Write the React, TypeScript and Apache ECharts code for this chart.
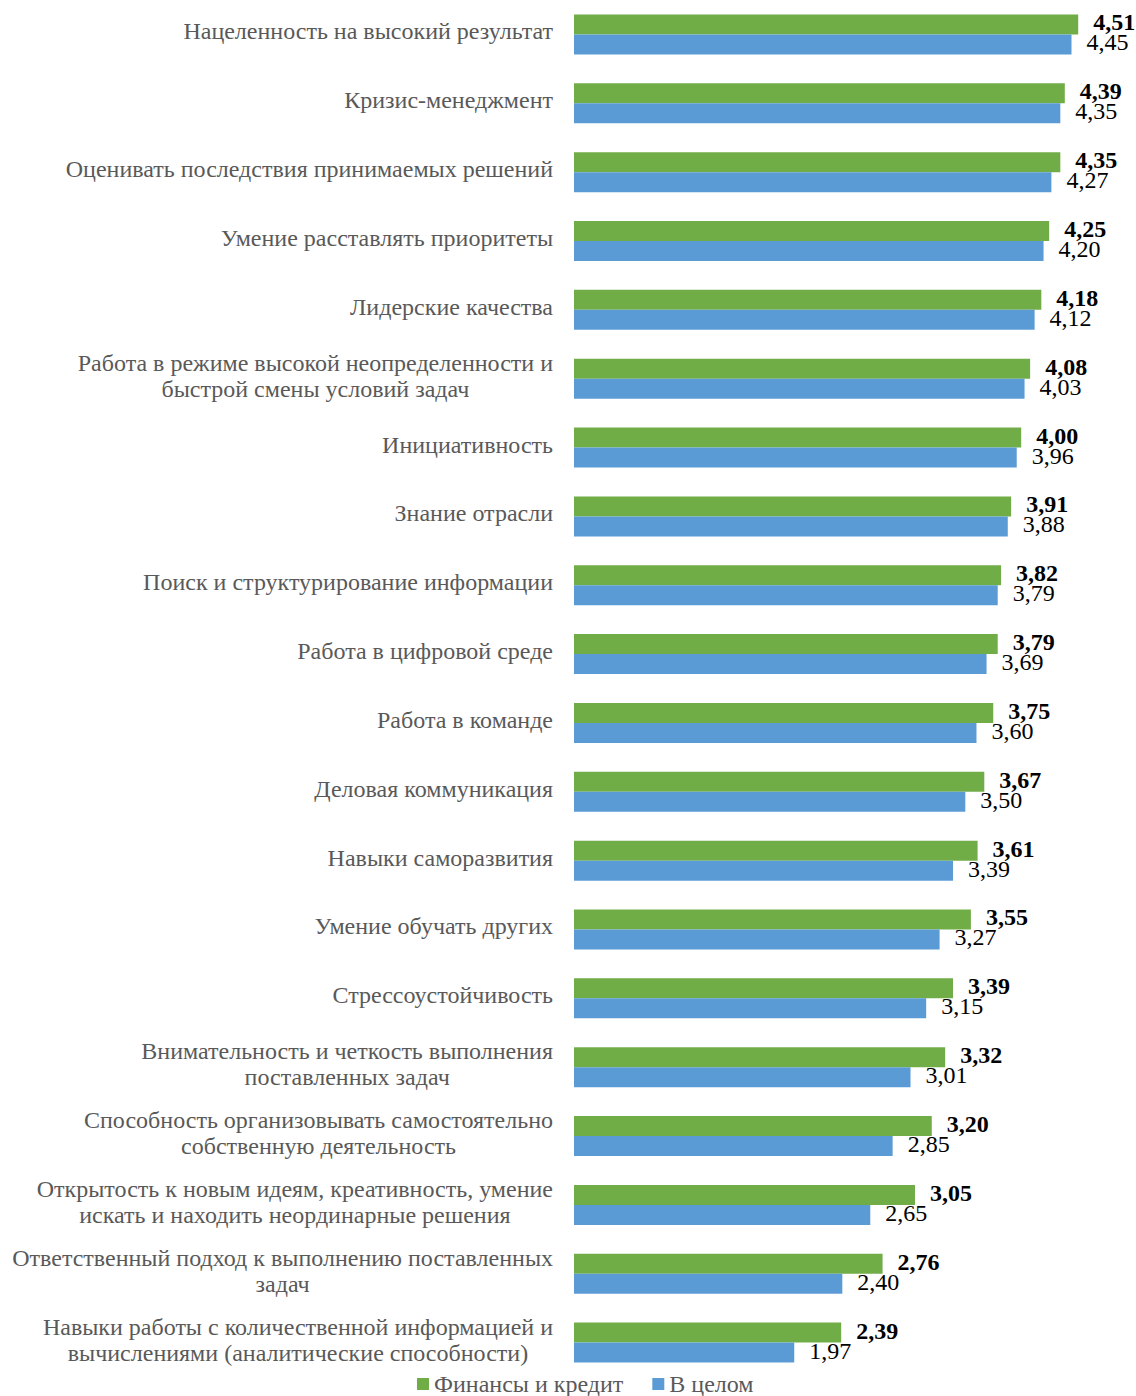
import React, { useEffect, useRef } from "react";
import * as echarts from "echarts";

const categories = [
  "Нацеленность на высокий результат",
  "Кризис-менеджмент",
  "Оценивать последствия принимаемых решений",
  "Умение расставлять приоритеты",
  "Лидерские качества",
  "Работа в режиме высокой неопределенности и\nбыстрой смены условий задач",
  "Инициативность",
  "Знание отрасли",
  "Поиск и структурирование информации",
  "Работа в цифровой среде",
  "Работа в команде",
  "Деловая коммуникация",
  "Навыки саморазвития",
  "Умение обучать других",
  "Стрессоустойчивость",
  "Внимательность и четкость выполнения\nпоставленных задач",
  "Способность организовывать самостоятельно\nсобственную деятельность",
  "Открытость к новым идеям, креативность, умение\nискать и находить неординарные решения",
  "Ответственный подход к выполнению поставленных\nзадач",
  "Навыки работы с количественной информацией и\nвычислениями (аналитические способности)",
];

const financeValues = [
  4.51, 4.39, 4.35, 4.25, 4.18, 4.08, 4.0, 3.91, 3.82, 3.79, 3.75, 3.67, 3.61,
  3.55, 3.39, 3.32, 3.2, 3.05, 2.76, 2.39,
];

const overallValues = [
  4.45, 4.35, 4.27, 4.2, 4.12, 4.03, 3.96, 3.88, 3.79, 3.69, 3.6, 3.5, 3.39,
  3.27, 3.15, 3.01, 2.85, 2.65, 2.4, 1.97,
];

const seriesNames = ["Финансы и кредит", "В целом"];

const FONT = "'Liberation Serif', 'Times New Roman', serif";
const GRAY = "#595959";

const fmt = (v: number) => v.toFixed(2).replace(".", ",");

export default function App() {
  const ref = useRef<HTMLDivElement>(null);
  useEffect(() => {
    document.body.style.margin = "0";
    if (!ref.current) return;
    const chart = echarts.init(ref.current, undefined, { renderer: "svg" });
    chart.setOption({
      animation: false,
      backgroundColor: "#ffffff",
      grid: { left: 574, right: 3, top: -3, height: 1380, containLabel: false },
      xAxis: {
        type: "value",
        min: 0,
        max: 5,
        show: false,
      },
      yAxis: {
        type: "category",
        data: categories,
        inverse: true,
        axisLine: { show: false },
        axisTick: { show: false },
        splitLine: { show: false },
        axisLabel: {
          margin: 21,
          align: "right",
          padding: [0, 0, 6, 0],
          formatter: (v: string) =>
            v
              .split("\n")
              .map((l) => `{a|${l}}`)
              .join("\n"),
          rich: {
            a: {
              align: "center",
              fontFamily: FONT,
              fontSize: 24,
              lineHeight: 26,
              color: GRAY,
            },
          },
        },
      },
      legend: {
        top: 1372,
        left: 417,
        padding: 0,
        itemWidth: 12,
        itemHeight: 12,
        itemGap: 29,
        icon: "rect",
        textStyle: { fontFamily: FONT, fontSize: 24, color: GRAY },
        data: seriesNames,
      },
      series: [
        {
          name: seriesNames[0],
          type: "bar",
          data: financeValues,
          barWidth: 20,
          barGap: "0%",
          itemStyle: { color: "#70AD47" },
          label: {
            show: true,
            position: "right",
            distance: 15,
            offset: [0, -2],
            formatter: (p: any) => fmt(p.value),
            fontFamily: FONT,
            fontSize: 24,
            fontWeight: "bold",
            color: "#000000",
          },
        },
        {
          name: seriesNames[1],
          type: "bar",
          data: overallValues,
          barWidth: 20,
          barGap: "0%",
          itemStyle: { color: "#5B9BD5" },
          label: {
            show: true,
            position: "right",
            distance: 15,
            offset: [0, -2],
            formatter: (p: any) => fmt(p.value),
            fontFamily: FONT,
            fontSize: 24,
            color: "#000000",
          },
        },
      ],
    });
    return () => chart.dispose();
  }, []);
  return <div ref={ref} style={{ width: 1136, height: 1396 }} />;
}
